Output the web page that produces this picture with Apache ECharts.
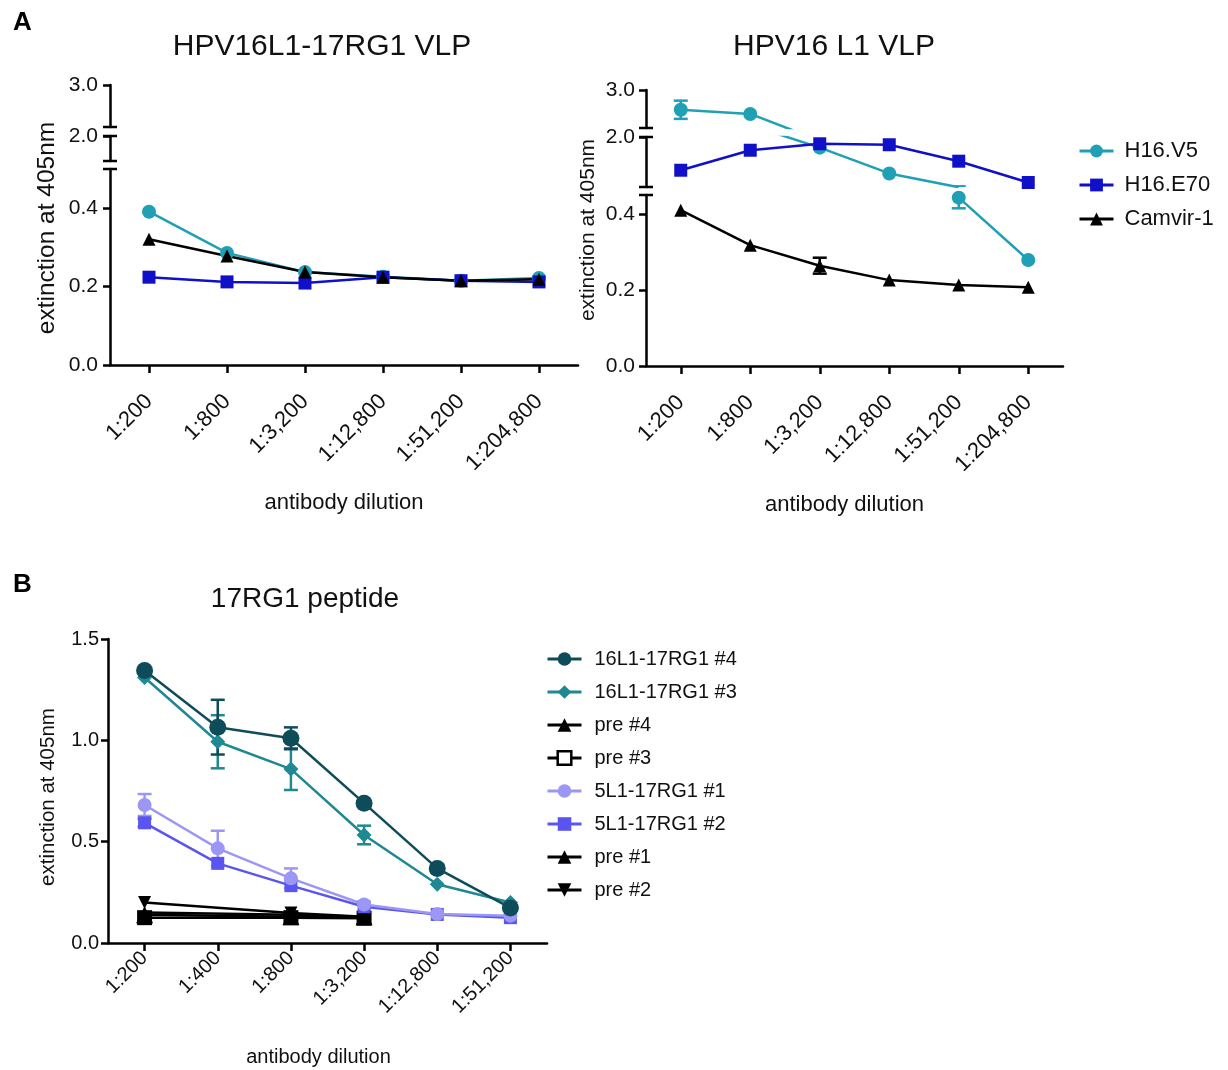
<!DOCTYPE html>
<html><head><meta charset="utf-8">
<script src="https://cdn.jsdelivr.net/npm/echarts@6/dist/echarts.min.js"></script>
<style>html,body{margin:0;padding:0;background:#fff}#c{width:1228px;height:1070px}</style>
</head><body><div id="c"></div>
<script>
const FONT = '"Liberation Sans", Arial, sans-serif';
const TXT = '#111';

// ---------- categories ----------
const dilutionsA = ['1:200', '1:800', '1:3,200', '1:12,800', '1:51,200', '1:204,800'];
const dilutionsB = ['1:200', '1:400', '1:800', '1:3,200', '1:12,800', '1:51,200'];

// ---------- Panel A left: HPV16L1-17RG1 VLP ----------
const leftV5     = [0.391, 0.286, 0.237, 0.225, 0.215, 0.222];
const leftE70    = [0.224, 0.212, 0.209, 0.224, 0.215, 0.212];
const leftCamvir = [0.321, 0.278, 0.237, 0.224, 0.215, 0.219];

// ---------- Panel A right: HPV16 L1 VLP ----------
const rightV5        = [2.48, 2.37, 1.67, 0.87, 0.443, 0.279];
const rightV5Err     = [0.24, 0, 0, 0, 0.028, 0];
const rightE70       = [0.97, 1.59, 1.79, 1.76, 1.25, 0.59];
const rightE70Err    = [0, 0, 0, 0, 0, 0];
const rightCamvir    = [0.41, 0.318, 0.264, 0.226, 0.213, 0.207];
const rightCamvirErr = [0, 0, 0.021, 0, 0, 0];

// broken y-axis segments (top -> bottom) and their tick values
const segLeft  = [[2.0, 3.0], [0.5, 2.0], [0, 0.5]];
const segRight = [[2.0, 3.0], [0.45, 2.0], [0, 0.45]];
const segTicks = [[3.0], [2.0], [0, 0.2, 0.4]];

// ---------- Panel B: 17RG1 peptide ----------
const b16L1n4    = [1.345, 1.065, 1.01, 0.69, 0.368, 0.173];
const b16L1n4Err = [0, 0.135, 0.054, 0, 0.02, 0];
const b16L1n3    = [1.31, 0.993, 0.858, 0.533, 0.29, 0.2];
const b16L1n3Err = [0, 0.131, 0.103, 0.046, 0, 0];
const bPre4      = [0.14, null, 0.13, 0.13, null, null];
const bPre3      = [0.125, null, 0.125, 0.122, null, null];
const b5L1n1     = [0.681, 0.467, 0.319, 0.19, 0.143, 0.135];
const b5L1n1Err  = [0.054, 0.087, 0.049, 0, 0, 0];
const b5L1n2     = [0.593, 0.393, 0.283, 0.179, 0.141, 0.125];
const b5L1n2Err  = [0.02, 0, 0, 0, 0, 0];
const bPre1      = [0.15, null, 0.14, 0.13, null, null];
const bPre2      = [0.2, null, 0.148, 0.13, null, null];
const bTicks     = [0, 0.5, 1.0, 1.5];

// colours
const C_V5 = '#1FA0B4', C_E70 = '#1010C8', C_BLACK = '#000';
const C_N4 = '#0F4C5A', C_N3 = '#1E8893', C_P1 = '#9C97F5', C_P2 = '#5A55F0';

const option = {
  animation: false,
  backgroundColor: '#fff',
  textStyle: { fontFamily: FONT },
  grid: [], xAxis: [], yAxis: [], series: [], title: [], legend: [], graphic: []
};

const axisLineStyle = { color: '#000', width: 2.5 };

function errData(vals, errs) {
  const out = [];
  vals.forEach((v, i) => {
    if (v != null && errs && errs[i] > 0) out.push([i, v - errs[i], v + errs[i]]);
  });
  return out;
}
function errRender(color, capW) {
  return function (params, api) {
    const x = api.value(0);
    const pLo = api.coord([x, api.value(1)]);
    const pHi = api.coord([x, api.value(2)]);
    const st = { stroke: color, lineWidth: 2.5 };
    return { type: 'group', children: [
      { type: 'line', shape: { x1: pLo[0], y1: pLo[1], x2: pHi[0], y2: pHi[1] }, style: st },
      { type: 'line', shape: { x1: pLo[0] - capW, y1: pLo[1], x2: pLo[0] + capW, y2: pLo[1] }, style: st },
      { type: 'line', shape: { x1: pHi[0] - capW, y1: pHi[1], x2: pHi[0] + capW, y2: pHi[1] }, style: st }
    ]};
  };
}
// keep only points inside a segment, plus their direct neighbours (so the
// connecting line is drawn and clipped at the segment edge)
function segData(vals, seg) {
  const inR = v => v != null && v >= seg[0] && v <= seg[1];
  return vals.map((v, i) => (inR(v) || inR(vals[i - 1]) || inR(vals[i + 1])) ? v : null);
}

function addXAxis(gi, cats, show, nameGap, fs, margin, namePad) {
  option.xAxis.push({
    type: 'category', gridIndex: gi, data: cats, show: show, boundaryGap: true,
    axisLine: { show: true, onZero: false, lineStyle: axisLineStyle },
    axisTick: { show: true, alignWithLabel: true, length: 8, lineStyle: axisLineStyle },
    axisLabel: { rotate: 45, fontSize: fs, color: TXT, margin: margin, fontFamily: FONT, interval: 0 },
    splitLine: { show: false },
    name: show ? 'antibody dilution' : '', nameLocation: 'middle', nameGap: nameGap,
    nameTextStyle: { fontSize: fs, color: TXT, fontFamily: FONT, padding: namePad || 0 }
  });
}
function addYAxis(gi, min, max, ticks, fs, margin) {
  option.yAxis.push({
    type: 'value', gridIndex: gi, min: min, max: max,
    splitLine: { show: false },
    axisLine: { show: true, onZero: false, lineStyle: axisLineStyle },
    axisTick: { show: true, customValues: ticks, length: 7, lineStyle: axisLineStyle },
    axisLabel: { customValues: ticks, formatter: v => Number(v).toFixed(1), fontSize: fs, color: TXT, margin: margin, fontFamily: FONT }
  });
}

function addLine(gi, s, data, clip, connect) {
  option.series.push({
    type: 'line', name: s.name, xAxisIndex: gi, yAxisIndex: gi, data: data,
    symbol: s.symbol, symbolSize: s.size, symbolRotate: s.rotate || 0, clip: clip,
    connectNulls: connect, showAllSymbol: true, z: 3,
    lineStyle: { color: s.color, width: 2.5 },
    itemStyle: { color: s.color, borderColor: s.color, borderWidth: 0, opacity: 1 }
  });
  const ed = errData(s.data, s.err);
  if (ed.length) {
    option.series.push({
      type: 'custom', name: s.name, xAxisIndex: gi, yAxisIndex: gi, data: ed,
      encode: { x: 0, y: [1, 2] }, clip: clip, z: 2,
      renderItem: errRender(s.color, 7)
    });
  }
}

function addBrokenChart(cfg) {
  cfg.segments.forEach((seg, i) => {
    const gi = option.grid.length;
    const isBottom = i === cfg.segments.length - 1;
    const L = cfg.layout[i];
    option.grid.push({ left: cfg.left, width: cfg.width, top: L.top, height: L.height });
    addXAxis(gi, cfg.categories, isBottom, cfg.nameGap, 22, 33, cfg.namePad);
    addYAxis(gi, seg[0], seg[1], segTicks[i], 21, cfg.yMargin);
    cfg.series.forEach(s => addLine(gi, s, segData(s.data, seg), true, false));
    // axis-break marks at segment ends
    if (i > 0) {
      const prev = cfg.layout[i - 1];
      [prev.top + prev.height, L.top].forEach(yy => {
        option.graphic.push({ type: 'line', silent: true, z: 100,
          shape: { x1: cfg.left - 7, y1: yy, x2: cfg.left + 7, y2: yy },
          style: { stroke: '#000', lineWidth: 2.5 } });
      });
    }
  });
}

addBrokenChart({
  left: 110, width: 468, nameGap: 127, yMargin: 12, categories: dilutionsA, segments: segLeft,
  layout: [{ top: 85, height: 42 }, { top: 136, height: 25 }, { top: 169, height: 196 }],
  series: [
    { name: 'H16.V5', data: leftV5, color: C_V5, symbol: 'circle', size: 14 },
    { name: 'H16.E70', data: leftE70, color: C_E70, symbol: 'rect', size: 13 },
    { name: 'Camvir-1', data: leftCamvir, color: C_BLACK, symbol: 'triangle', size: 13 }
  ]
});
addBrokenChart({
  left: 646, width: 417, nameGap: 128, yMargin: 11, namePad: [0, 20, 0, 0], categories: dilutionsA, segments: segRight,
  layout: [{ top: 90, height: 38 }, { top: 137, height: 50 }, { top: 195, height: 171 }],
  series: [
    { name: 'H16.V5', data: rightV5, err: rightV5Err, color: C_V5, symbol: 'circle', size: 14 },
    { name: 'H16.E70', data: rightE70, err: rightE70Err, color: C_E70, symbol: 'rect', size: 13 },
    { name: 'Camvir-1', data: rightCamvir, err: rightCamvirErr, color: C_BLACK, symbol: 'triangle', size: 13 }
  ]
});

// Panel B
(function () {
  const gi = option.grid.length;
  option.grid.push({ left: 108, width: 439, top: 639, height: 304 });
  addXAxis(gi, dilutionsB, true, 104, 20, 12, [0, 18, 0, 0]);
  addYAxis(gi, 0, 1.5, bTicks, 20, 9);
  const sB = [
    { name: 'pre #3', data: bPre3, color: C_BLACK, symbol: 'rect', size: 15 },
    { name: 'pre #4', data: bPre4, color: C_BLACK, symbol: 'triangle', size: 17 },
    { name: 'pre #1', data: bPre1, color: C_BLACK, symbol: 'triangle', size: 11 },
    { name: 'pre #2', data: bPre2, color: C_BLACK, symbol: 'triangle', size: 13, rotate: 180 },
    { name: '5L1-17RG1 #2', data: b5L1n2, err: b5L1n2Err, color: C_P2, symbol: 'rect', size: 13 },
    { name: '5L1-17RG1 #1', data: b5L1n1, err: b5L1n1Err, color: C_P1, symbol: 'circle', size: 14 },
    { name: '16L1-17RG1 #3', data: b16L1n3, err: b16L1n3Err, color: C_N3, symbol: 'diamond', size: 15 },
    { name: '16L1-17RG1 #4', data: b16L1n4, err: b16L1n4Err, color: C_N4, symbol: 'circle', size: 17 }
  ];
  sB.forEach(s => addLine(gi, s, s.data, false, true));
})();

// legends
option.legend.push({
  orient: 'vertical', left: 1073, top: 134, itemWidth: 34, itemHeight: 16, itemGap: 10,
  lineStyle: { width: 3 },
  textStyle: { fontSize: 22, color: TXT, fontFamily: FONT, lineHeight: 24, padding: [0, 0, 0, 6] },
  data: ['H16.V5', 'H16.E70', 'Camvir-1'], selectedMode: false
});
option.legend.push({
  orient: 'vertical', left: 541, top: 643, itemWidth: 34, itemHeight: 17, itemGap: 11,
  lineStyle: { width: 3 },
  textStyle: { fontSize: 20, color: TXT, fontFamily: FONT, lineHeight: 22, padding: [0, 0, 0, 8] },
  data: ['16L1-17RG1 #4', '16L1-17RG1 #3', 'pre #4',
         { name: 'pre #3', itemStyle: { color: '#fff', borderColor: '#000', borderWidth: 2.5 } },
         '5L1-17RG1 #1', '5L1-17RG1 #2', 'pre #1', 'pre #2'],
  selectedMode: false
});

// titles & panel letters
const titleStyle = { fontSize: 30, fontWeight: 'normal', color: TXT, fontFamily: FONT };
const letterStyle = { fontSize: 26, fontWeight: 'bold', color: '#000', fontFamily: FONT };
option.title.push({ text: 'A', left: 8, top: 5, textStyle: letterStyle });
option.title.push({ text: 'B', left: 8, top: 567, textStyle: letterStyle });
option.title.push({ text: 'HPV16L1-17RG1 VLP', left: 317, top: 27, textAlign: 'center', textStyle: titleStyle });
option.title.push({ text: 'HPV16 L1 VLP', left: 829, top: 27, textAlign: 'center', textStyle: titleStyle });
option.title.push({ text: '17RG1 peptide', left: 300, top: 580, textAlign: 'center', textStyle: Object.assign({}, titleStyle, { fontSize: 28 }) });

// y-axis names (rotated)
[[47, 228, 24.5], [588, 230, 21], [48, 797, 20.5]].forEach(p => {
  option.graphic.push({ type: 'text', x: p[0], y: p[1], rotation: Math.PI / 2, silent: true,
    style: { text: 'extinction at 405nm', fill: TXT, font: p[2] + 'px ' + FONT, textAlign: 'center', textVerticalAlign: 'middle', verticalAlign: 'middle' } });
});

const chart = echarts.init(document.getElementById('c'), null, { renderer: 'canvas', width: 1228, height: 1070 });
chart.setOption(option);
</script></body></html>
